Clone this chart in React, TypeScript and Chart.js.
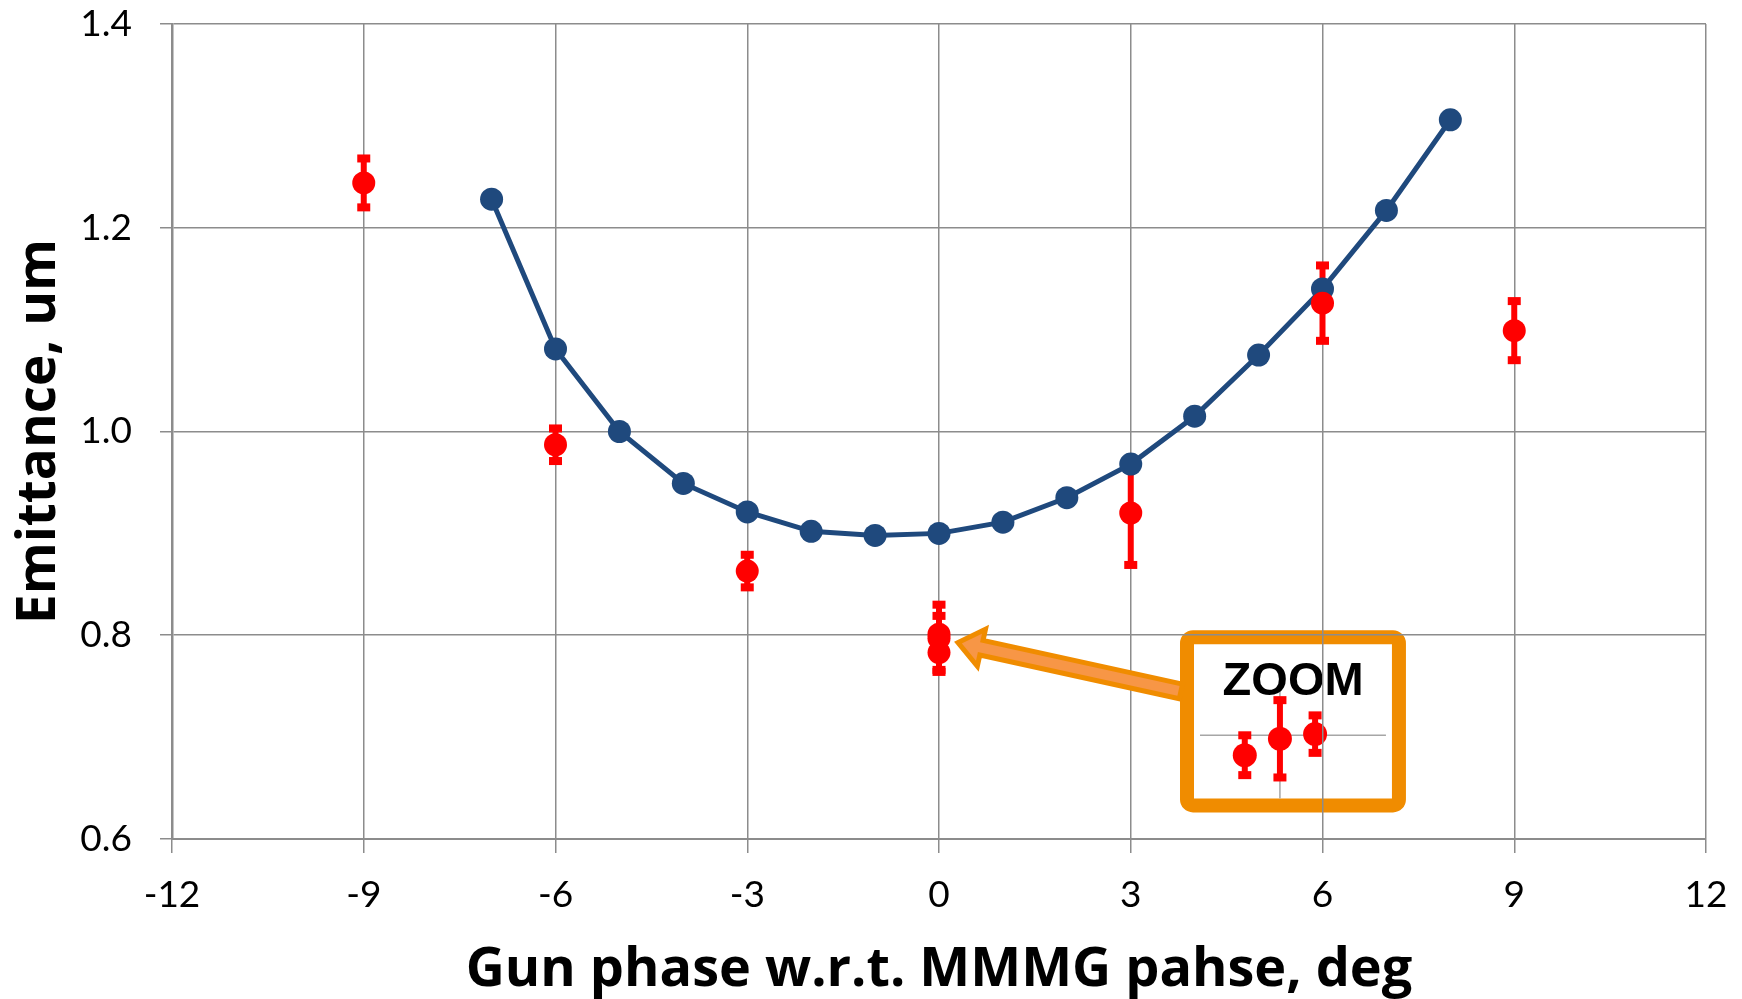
import { useEffect, useRef } from 'react';
import { Chart, registerables } from 'chart.js';

Chart.register(...registerables);

// ---- data ----
const simPhase = [-7, -6, -5, -4, -3, -2, -1, 0, 1, 2, 3, 4, 5, 6, 7, 8];
const simEmittance = [1.228, 1.081, 1.0, 0.949, 0.921, 0.902, 0.898, 0.9, 0.911, 0.935, 0.968, 1.015, 1.075, 1.14, 1.217, 1.306];

const measPhase = [-9, -6, -3, 0, 0, 0, 3, 6, 9];
const measEmittance = [1.244, 0.987, 0.863, 0.801, 0.797, 0.783, 0.92, 1.126, 1.099];
const measError = [0.024, 0.016, 0.016, 0.018, 0.033, 0.017, 0.051, 0.037, 0.029];

// zoom inset: the three measurements at 0 deg
const zoomValues = [0.783, 0.797, 0.801];
const zoomErrors = [0.017, 0.033, 0.016];
const zoomOffsets = [-0.55, 0, 0.55]; // spread along phase in the inset

const xTicks = [-12, -9, -6, -3, 0, 3, 6, 9, 12];
const yTicks = [0.6, 0.8, 1.0, 1.2, 1.4];

// annotation geometry in data units
const ZOOM_BOX = { x0: 3.88, x1: 7.196, y0: 0.633, y1: 0.798 };
const ZOOM_LABEL = { x: 5.54, y: 0.7418 };
const ZOOM_ORIGIN = { x: 5.334, y: 0.7018, value: 0.8 };
const ZOOM_MAG = 1.15;
const ARROW = { tailX: 3.785, tailY: 0.7448, tipX: 0.297, tipY: 0.7928 };

const RED = '#FF0000';
const BLUE = '#1F497D';
const ORANGE = '#F08C00';
const ORANGE_LIGHT = '#F79646';
const GRID = '#8C8C8C';

function drawErrorBar(ctx: CanvasRenderingContext2D, px: number, top: number, bot: number) {
  ctx.beginPath();
  ctx.moveTo(px, top);
  ctx.lineTo(px, bot);
  ctx.stroke();
  ctx.fillRect(px - 6.5, top - 4, 13, 8);
  ctx.fillRect(px - 6.5, bot - 4, 13, 8);
}

const errorBarPlugin = {
  id: 'errorBars',
  beforeDatasetsDraw(chart: any) {
    const { ctx } = chart;
    const x = chart.scales.x;
    const y = chart.scales.y;
    ctx.save();
    ctx.strokeStyle = RED;
    ctx.fillStyle = RED;
    ctx.lineWidth = 6;
    measPhase.forEach((p, i) => {
      const px = x.getPixelForValue(p);
      const top = y.getPixelForValue(measEmittance[i] + measError[i]);
      const bot = y.getPixelForValue(measEmittance[i] - measError[i]);
      drawErrorBar(ctx, px, top, bot);
    });
    ctx.restore();
  },
};

const zoomBoxPlugin = {
  id: 'zoomBox',
  beforeDraw(chart: any) {
    const { ctx } = chart;
    const x = chart.scales.x;
    const y = chart.scales.y;
    if (!x || !y) return;
    const l = x.getPixelForValue(ZOOM_BOX.x0);
    const r = x.getPixelForValue(ZOOM_BOX.x1);
    const t = y.getPixelForValue(ZOOM_BOX.y1);
    const b = y.getPixelForValue(ZOOM_BOX.y0);
    ctx.save();
    ctx.fillStyle = '#FFFFFF';
    ctx.strokeStyle = ORANGE;
    ctx.lineWidth = 14;
    ctx.beginPath();
    ctx.roundRect(l, t, r - l, b - t, 6);
    ctx.fill();
    ctx.stroke();

    // inset grid
    const ox = x.getPixelForValue(ZOOM_ORIGIN.x);
    const oy = y.getPixelForValue(ZOOM_ORIGIN.y);
    const unitY = (y.getPixelForValue(0) - y.getPixelForValue(1)) * ZOOM_MAG;
    ctx.strokeStyle = '#A6A6A6';
    ctx.lineWidth = 1.5;
    ctx.beginPath();
    ctx.moveTo(l + 13, oy);
    ctx.lineTo(r - 13, oy);
    ctx.moveTo(ox, t + 54);
    ctx.lineTo(ox, b - 7);
    ctx.stroke();

    // label
    ctx.fillStyle = '#000000';
    ctx.font = 'bold 47px "Liberation Sans", Arial, sans-serif';
    ctx.textAlign = 'center';
    ctx.textBaseline = 'alphabetic';
    ctx.fillText('ZOOM', x.getPixelForValue(ZOOM_LABEL.x), y.getPixelForValue(ZOOM_LABEL.y));

    // inset points
    ctx.strokeStyle = RED;
    ctx.fillStyle = RED;
    ctx.lineWidth = 6;
    zoomValues.forEach((v, i) => {
      const px = x.getPixelForValue(ZOOM_ORIGIN.x + zoomOffsets[i]);
      const py = oy - (v - ZOOM_ORIGIN.value) * unitY;
      const e = zoomErrors[i] * unitY;
      drawErrorBar(ctx, px, py - e, py + e);
      ctx.beginPath();
      ctx.arc(px, py, 12, 0, Math.PI * 2);
      ctx.fill();
    });
    ctx.restore();
  },
};

const arrowPlugin = {
  id: 'zoomArrow',
  afterDatasetsDraw(chart: any) {
    const { ctx } = chart;
    const x = chart.scales.x;
    const y = chart.scales.y;
    const tx = x.getPixelForValue(ARROW.tailX);
    const ty = y.getPixelForValue(ARROW.tailY);
    const hx = x.getPixelForValue(ARROW.tipX);
    const hy = y.getPixelForValue(ARROW.tipY);
    const dx = hx - tx;
    const dy = hy - ty;
    const len = Math.hypot(dx, dy);
    const ux = dx / len;
    const uy = dy / len;
    const nx = -uy;
    const ny = ux;
    const sw = 7.5;
    const hw = 19;
    const hl = 24;
    const bx = hx - ux * hl;
    const by = hy - uy * hl;
    ctx.save();
    ctx.beginPath();
    ctx.moveTo(tx + nx * sw, ty + ny * sw);
    ctx.lineTo(bx + nx * sw, by + ny * sw);
    ctx.lineTo(bx + nx * hw, by + ny * hw);
    ctx.lineTo(hx, hy);
    ctx.lineTo(bx - nx * hw, by - ny * hw);
    ctx.lineTo(bx - nx * sw, by - ny * sw);
    ctx.lineTo(tx - nx * sw, ty - ny * sw);
    ctx.closePath();
    ctx.fillStyle = ORANGE_LIGHT;
    ctx.fill();
    ctx.strokeStyle = ORANGE;
    ctx.lineWidth = 5;
    ctx.lineJoin = 'miter';
    ctx.stroke();
    ctx.restore();
  },
};

export default function App() {
  const canvasRef = useRef<HTMLCanvasElement | null>(null);

  useEffect(() => {
    const canvas = canvasRef.current;
    if (!canvas) return;
    const chart = new Chart(canvas, {
      type: 'line',
      data: {
        datasets: [
          {
            label: 'Measured',
            data: measPhase.map((p, i) => ({ x: p, y: measEmittance[i] })),
            showLine: false,
            pointRadius: 11.5,
            pointBackgroundColor: RED,
            pointBorderWidth: 0,
            borderColor: RED,
            backgroundColor: RED,
          },
          {
            label: 'Simulation',
            data: simPhase.map((p, i) => ({ x: p, y: simEmittance[i] })),
            borderColor: BLUE,
            borderWidth: 5,
            pointRadius: 11.5,
            pointBackgroundColor: BLUE,
            pointBorderWidth: 0,
            backgroundColor: BLUE,
            tension: 0,
          },
        ],
      },
      options: {
        animation: false,
        responsive: true,
        maintainAspectRatio: false,
        devicePixelRatio: 1,
        layout: { padding: { top: 24, right: 36, left: 0, bottom: 0 } },
        plugins: {
          legend: { display: false },
          tooltip: { enabled: false },
        },
        scales: {
          x: {
            type: 'linear',
            min: -12,
            max: 12,
            afterFit: (s: any) => {
              s.height = 160;
              s.paddingLeft = 0;
              s.paddingRight = 0;
            },
            afterBuildTicks: (s: any) => {
              s.ticks = xTicks.map((v) => ({ value: v }));
            },
            ticks: {
              color: '#000000',
              padding: 20,
              font: { family: 'Lato', size: 37 },
              callback: (v: any) => String(v),
              maxRotation: 0,
            },
            grid: { color: GRID, lineWidth: 1.5, tickLength: 14 },
            border: { display: true, color: GRID, width: 2 },
            title: {
              display: true,
              text: 'Gun phase w.r.t. MMMG pahse, deg',
              color: '#000000',
              font: { family: 'Open Sans', size: 54, weight: 'bold', lineHeight: 1.05 },
              padding: { top: 0, bottom: 0 },
            },
          },
          y: {
            type: 'linear',
            min: 0.6,
            max: 1.4,
            afterFit: (s: any) => {
              s.width = 172;
              s.paddingTop = 0;
              s.paddingBottom = 0;
            },
            afterBuildTicks: (s: any) => {
              s.ticks = yTicks.map((v) => ({ value: v }));
            },
            ticks: {
              color: '#000000',
              padding: 28,
              font: { family: 'Lato', size: 37 },
              callback: (v: any) => Number(v).toFixed(1),
            },
            grid: { color: GRID, lineWidth: 1.5, tickLength: 12 },
            border: { display: true, color: GRID, width: 2.5 },
            title: {
              display: true,
              text: 'Emittance, um',
              color: '#000000',
              font: { family: 'Open Sans', size: 53, weight: 'bold' },
              padding: { top: 8, bottom: 0 },
            },
          },
        },
      },
      plugins: [zoomBoxPlugin, errorBarPlugin, arrowPlugin],
    });
    return () => chart.destroy();
  }, []);

  return (
    <div style={{ position: 'fixed', left: 0, top: 0, width: 1742, height: 999, background: '#FFFFFF' }}>
      <canvas ref={canvasRef} />
    </div>
  );
}
